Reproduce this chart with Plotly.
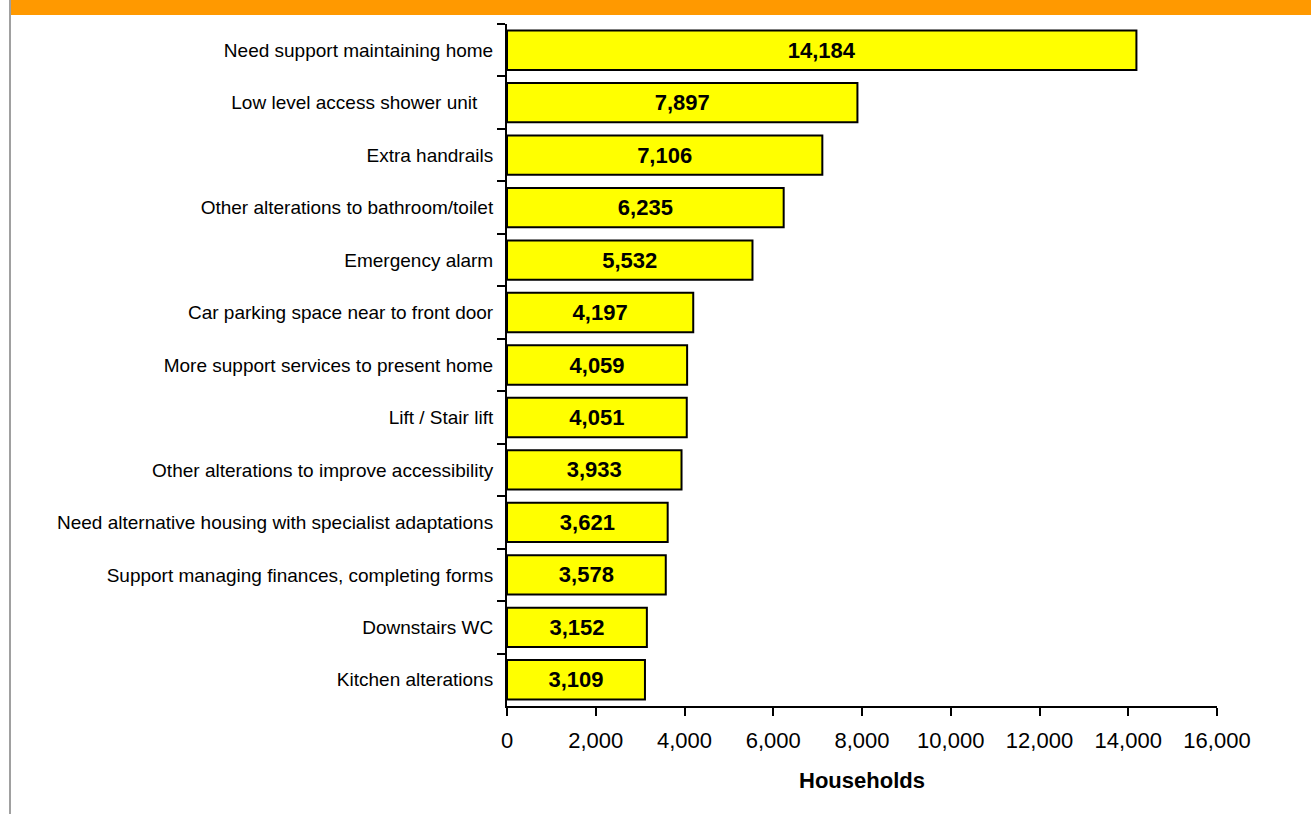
import plotly.graph_objects as go

# Adaptations / support needed, number of households
categories = [
    "Need support maintaining home",
    "Low level access shower unit\u00a0\u00a0\u00a0",
    "Extra handrails",
    "Other alterations to bathroom/toilet",
    "Emergency alarm",
    "Car parking space near to front door",
    "More support services to present home",
    "Lift / Stair lift",
    "Other alterations to improve accessibility",
    "Need alternative housing with specialist adaptations",
    "Support managing finances, completing forms",
    "Downstairs WC",
    "Kitchen alterations",
]
households = [14184, 7897, 7106, 6235, 5532, 4197, 4059, 4051, 3933, 3621, 3578, 3152, 3109]
x_ticks = [0, 2000, 4000, 6000, 8000, 10000, 12000, 14000, 16000]

W, H = 1311, 814
ML, MR, MT, MB = 507, 94, 24, 108
PW, PH = W - ML - MR, H - MT - MB
FONT = "Liberation Sans, Arial, sans-serif"


def px_x(p):
    return (p - ML) / PW


def px_y(p):
    return (H - MB - p) / PH


fig = go.Figure(
    go.Bar(
        x=households,
        y=categories,
        orientation="h",
        marker=dict(color="#FFFF00", line=dict(color="#000000", width=2)),
        texttemplate="<b>%{x:,}</b>",
        textposition="inside",
        insidetextanchor="middle",
        constraintext="none",
        textfont=dict(family=FONT, size=22, color="#000000"),
        hoverinfo="skip",
    )
)

fig.update_layout(
    width=W,
    height=H,
    margin=dict(l=ML, r=MR, t=MT, b=MB, pad=0, autoexpand=False),
    paper_bgcolor="#FFFFFF",
    plot_bgcolor="#FFFFFF",
    bargap=0.25,
    showlegend=False,
    font=dict(family=FONT, color="#000000"),
    shapes=[
        # orange header band
        dict(type="rect", xref="paper", yref="paper",
             x0=px_x(11), x1=px_x(W), y0=px_y(15), y1=px_y(0),
             fillcolor="#FF9900", line=dict(width=0), layer="below"),
        # grey frame line on the left
        dict(type="line", xref="paper", yref="paper",
             x0=px_x(10), x1=px_x(10), y0=px_y(0), y1=px_y(H),
             line=dict(color="#A0A0A0", width=2)),
    ],
)

fig.update_xaxes(
    range=[0, 16000],
    tickvals=x_ticks,
    tickformat=",",
    ticks="outside",
    ticklen=8,
    tickwidth=2,
    tickcolor="#000000",
    showline=True,
    linecolor="#000000",
    linewidth=2,
    showgrid=False,
    zeroline=False,
    automargin=False,
    ticklabelstandoff=6,
    tickfont=dict(size=22, family=FONT),
    title=dict(text="<b>Households</b>", font=dict(size=22), standoff=20),
)

fig.update_yaxes(
    autorange="reversed",
    ticks="outside",
    tickson="boundaries",
    ticklen=8,
    tickwidth=2,
    tickcolor="#000000",
    showline=True,
    linecolor="#000000",
    linewidth=2,
    showgrid=False,
    zeroline=False,
    automargin=False,
    ticklabelstandoff=8,
    tickfont=dict(size=19, family=FONT),
)

fig.write_html("out.html")
